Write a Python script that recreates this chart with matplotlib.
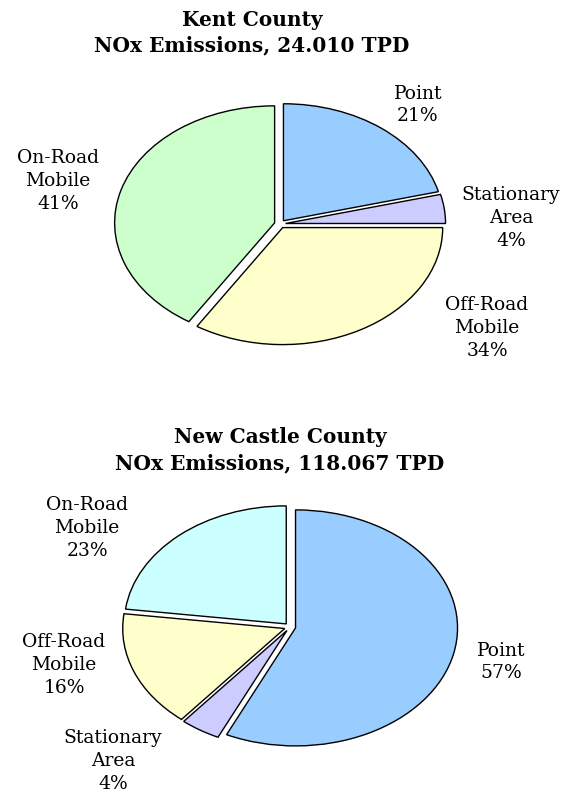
import numpy as np
import matplotlib.pyplot as plt

# data
categories = ["Point", "Stationary\nArea", "Off-Road\nMobile", "On-Road\nMobile"]
kent_pct = [21, 4, 34, 41]
nc_pct = [57, 4, 16, 23]
kent_title = "Kent County\nNOx Emissions, 24.010 TPD"
nc_title = "New Castle County\nNOx Emissions, 118.067 TPD"

kent_colors = ["#99CCFF", "#CCCCFF", "#FFFFCC", "#CCFFCC"]
nc_colors = ["#99CCFF", "#CCCCFF", "#FFFFCC", "#CCFFFF"]

W, H = 567, 793
fig = plt.figure(figsize=(W / 100, H / 100), dpi=100)
fig.patch.set_facecolor("white")

FONT = "DejaVu Serif"


def px_axes(cx, cy, rx, ry, half=1.25):
    # axes so that the unit pie lands as an ellipse centred at (cx, cy) px
    w = 2 * half * rx
    h = 2 * half * ry
    ax = fig.add_axes([(cx - w / 2) / W, (H - cy - h / 2) / H, w / W, h / H])
    return ax, half


def draw_pie(cx, cy, rx, ry, vals, colors, label_pos):
    ax, half = px_axes(cx, cy, rx, ry)
    ax.pie(vals, colors=colors, startangle=90, counterclock=False,
           explode=[0.035] * len(vals),
           wedgeprops=dict(edgecolor="black", linewidth=1.0))
    ax.set_aspect("auto")
    ax.set_xlim(-half, half)
    ax.set_ylim(-half, half)
    for lab, v, (x, y) in zip(categories, vals, label_pos):
        fig.text(x / W, 1 - y / H, "%s\n%d%%" % (lab, v), ha="center", va="center",
                 family=FONT, fontsize=13.5, linespacing=1.35)


# Kent County
fig.text(252 / W, 1 - 33 / H, kent_title, ha="center", va="center", family=FONT,
         fontsize=14.5, fontweight="bold", linespacing=1.35)
draw_pie(280, 224, 160, 117, kent_pct, kent_colors,
         [(418, 105), (511, 218), (487, 328), (58, 181)])

# New Castle County
fig.text(280 / W, 1 - 450 / H, nc_title, ha="center", va="center", family=FONT,
         fontsize=14.5, fontweight="bold", linespacing=1.4)
draw_pie(290, 627, 162, 118, nc_pct, nc_colors,
         [(501, 662), (113, 761), (64, 665), (87, 528)])

fig.savefig("out.png", dpi=100)
